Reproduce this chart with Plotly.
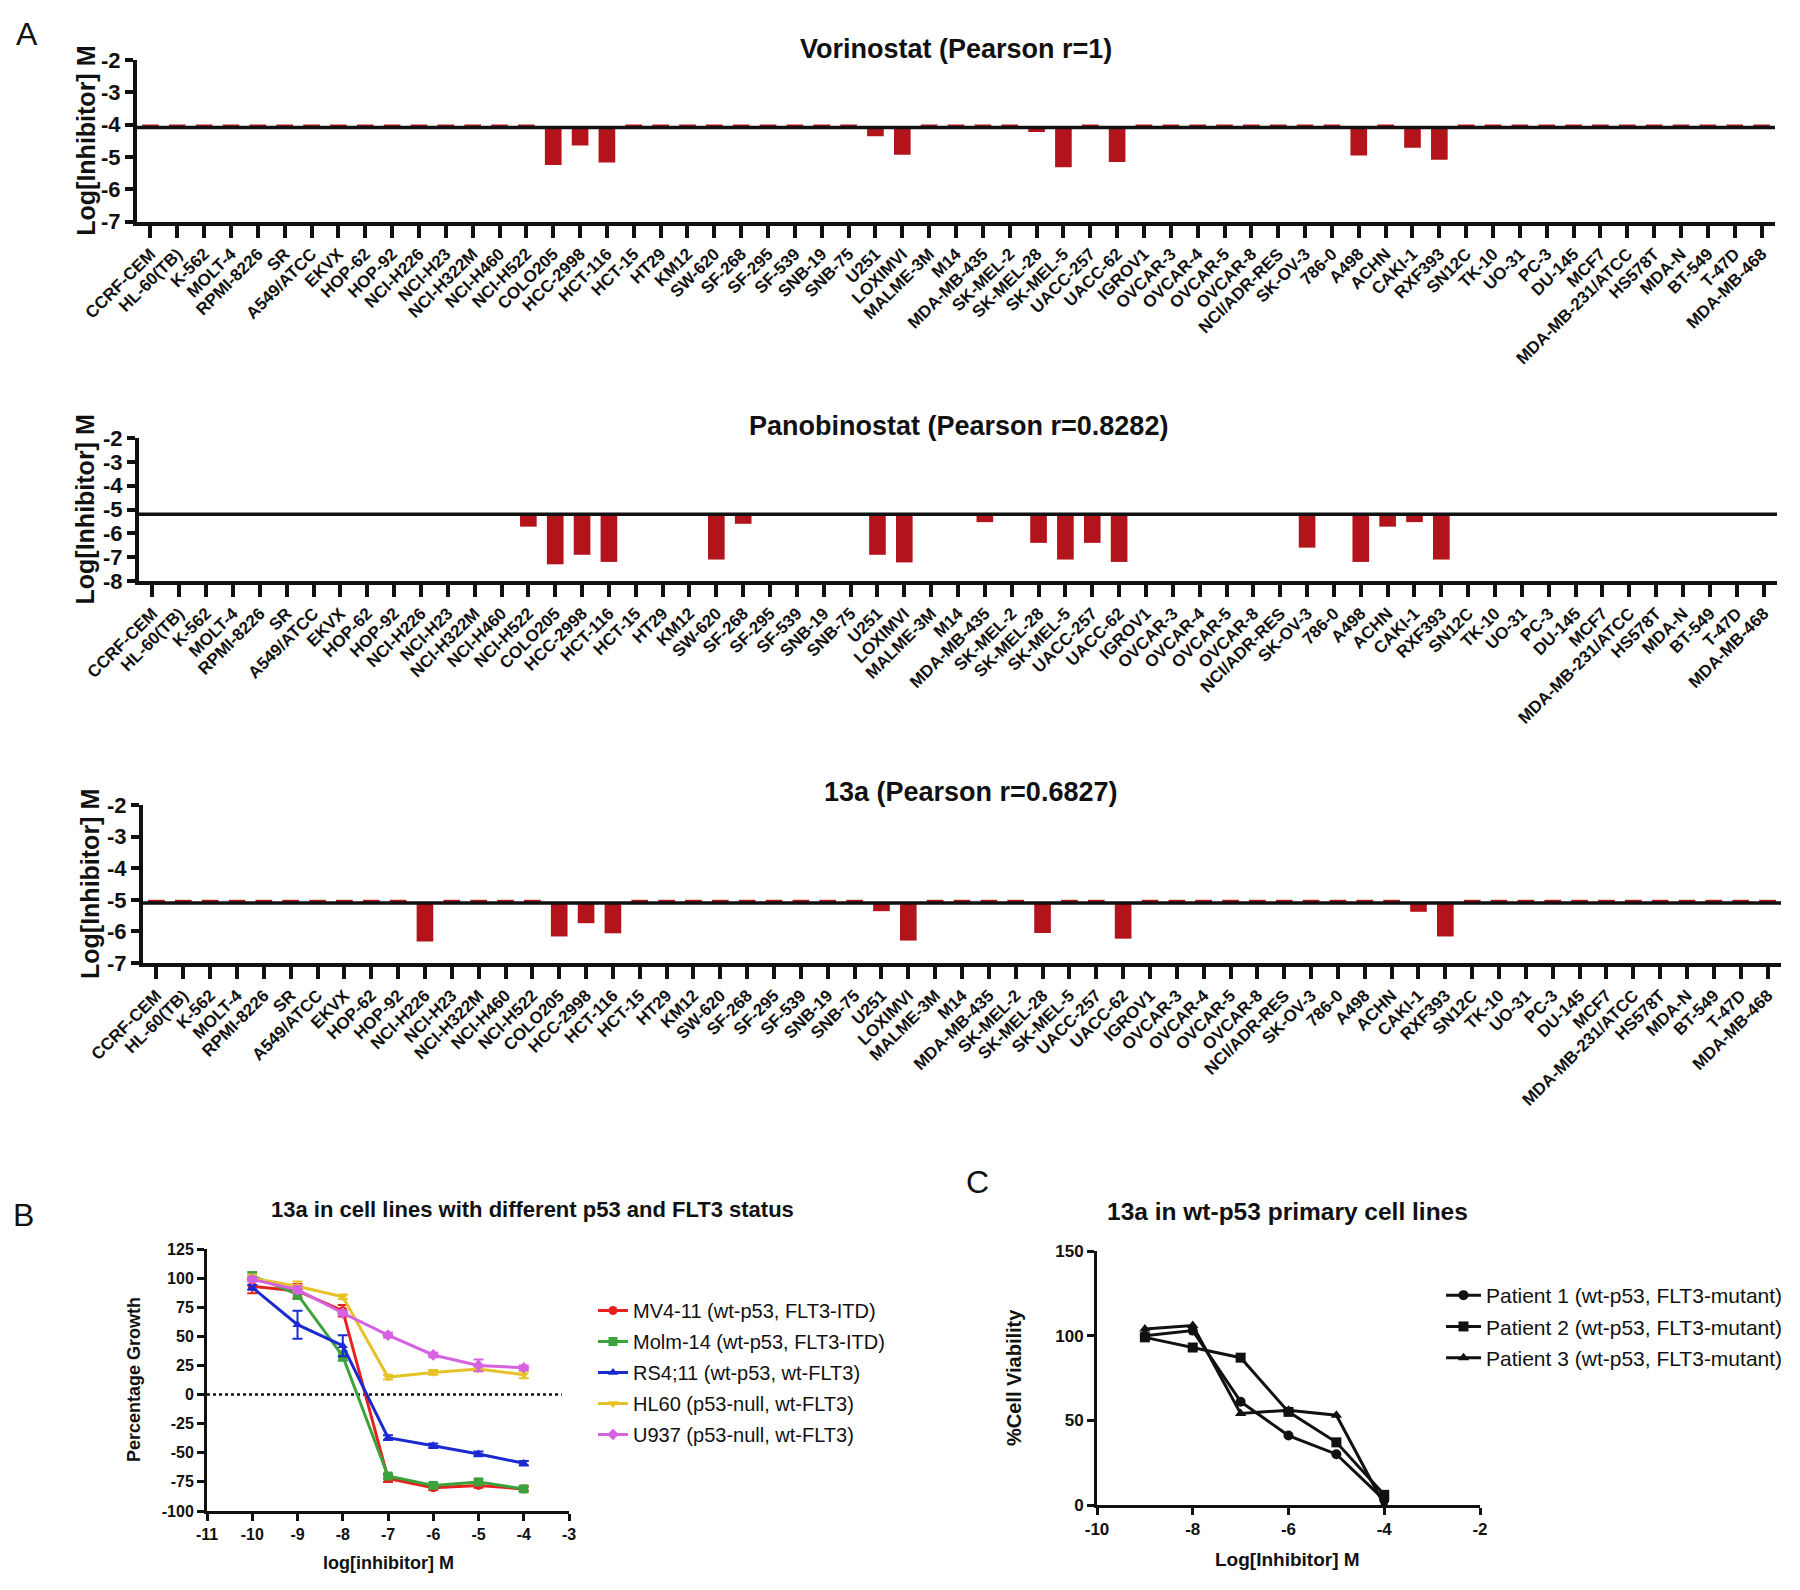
import plotly.graph_objects as go

W, H = 1800, 1590

# ---------------- data ----------------
cells = ["CCRF-CEM", "HL-60(TB)", "K-562", "MOLT-4", "RPMI-8226", "SR", "A549/ATCC", "EKVX",
         "HOP-62", "HOP-92", "NCI-H226", "NCI-H23", "NCI-H322M", "NCI-H460", "NCI-H522",
         "COLO205", "HCC-2998", "HCT-116", "HCT-15", "HT29", "KM12", "SW-620", "SF-268",
         "SF-295", "SF-539", "SNB-19", "SNB-75", "U251", "LOXIMVI", "MALME-3M", "M14",
         "MDA-MB-435", "SK-MEL-2", "SK-MEL-28", "SK-MEL-5", "UACC-257", "UACC-62", "IGROV1",
         "OVCAR-3", "OVCAR-4", "OVCAR-5", "OVCAR-8", "NCI/ADR-RES", "SK-OV-3", "786-0",
         "A498", "ACHN", "CAKI-1", "RXF393", "SN12C", "TK-10", "UO-31", "PC-3", "DU-145",
         "MCF7", "MDA-MB-231/ATCC", "HS578T", "MDA-N", "BT-549", "T-47D", "MDA-MB-468"]

vorinostat = [-4.0, -4.0, -4.0, -4.0, -4.0, -4.0, -4.0, -4.0, -4.0, -4.0,
              -4.0, -4.0, -4.0, -4.0, -4.0, -5.25, -4.65, -5.17, -4.0, -4.0,
              -4.0, -4.0, -4.0, -4.0, -4.0, -4.0, -4.0, -4.36, -4.93, -4.0,
              -4.0, -4.0, -4.0, -4.23, -5.32, -4.0, -5.16, -4.0, -4.0, -4.0,
              -4.0, -4.0, -4.0, -4.0, -4.0, -4.96, -4.0, -4.72, -5.09, -4.0,
              -4.0, -4.0, -4.0, -4.0, -4.0, -4.0, -4.0, -4.0, -4.0, -4.0, -4.0]
vorinostat_mean = -4.09

panobinostat = [-5.2, -5.2, -5.2, -5.2, -5.2, -5.2, -5.2, -5.2, -5.2, -5.2,
                -5.2, -5.2, -5.2, -5.2, -5.72, -7.3, -6.9, -7.2, -5.2, -5.2,
                -5.2, -7.1, -5.6, -5.2, -5.2, -5.2, -5.2, -6.9, -7.22, -5.2,
                -5.2, -5.53, -5.2, -6.4, -7.1, -6.4, -7.2, -5.2, -5.2, -5.2,
                -5.2, -5.2, -5.2, -6.6, -5.2, -7.2, -5.72, -5.53, -7.1, -5.2,
                -5.2, -5.2, -5.2, -5.2, -5.2, -5.2, -5.2, -5.2, -5.2, -5.2, -5.2]
panobinostat_mean = -5.2

c13a = [-5.0, -5.0, -5.0, -5.0, -5.0, -5.0, -5.0, -5.0, -5.0, -5.0,
        -6.32, -5.0, -5.0, -5.0, -5.0, -6.16, -5.74, -6.06, -5.0, -5.0,
        -5.0, -5.0, -5.0, -5.0, -5.0, -5.0, -5.0, -5.36, -6.29, -5.0,
        -5.0, -5.0, -5.0, -6.05, -5.0, -5.0, -6.23, -5.0, -5.0, -5.0,
        -5.0, -5.0, -5.0, -5.0, -5.0, -5.0, -5.0, -5.38, -6.16, -5.0,
        -5.0, -5.0, -5.0, -5.0, -5.0, -5.0, -5.0, -5.0, -5.0, -5.0, -5.0]
c13a_mean = -5.1

titles_a = ["Vorinostat (Pearson r=1)", "Panobinostat (Pearson r=0.8282)", "13a (Pearson r=0.6827)"]

# Panel B
x_b = [-10, -9, -8, -7, -6, -5, -4]
mv411 = [93, 89, 72, -72, -80, -78, -81]
molm14 = [102, 86, 33, -70, -78, -75, -81]
rs411 = [92, 60, 42, -37, -44, -51, -59]
hl60 = [100, 93, 84, 15, 19, 22, 17]
u937 = [99, 90, 70, 51, 34, 25, 23]
mv411_err = [6, 6, 5, 3, 2, 2, 2]
molm14_err = [3, 4, 4, 2, 2, 2, 2]
rs411_err = [2, 12, 9, 2, 2, 2, 2]
hl60_err = [3, 4, 2, 2, 2, 2, 3]
u937_err = [2, 3, 2, 2, 2, 5, 2]
names_b = ["MV4-11 (wt-p53, FLT3-ITD)", "Molm-14 (wt-p53, FLT3-ITD)", "RS4;11 (wt-p53, wt-FLT3)",
           "HL60 (p53-null, wt-FLT3)", "U937 (p53-null, wt-FLT3)"]
b_xticks = [-11, -10, -9, -8, -7, -6, -5, -4, -3]
b_yticks = [-100, -75, -50, -25, 0, 25, 50, 75, 100, 125]

# Panel C
x_c = [-9, -8, -7, -6, -5, -4]
patient1 = [100, 103, 61, 41, 30, 3]
patient2 = [99, 93, 87, 55, 37, 6]
patient3 = [104, 106, 54, 56, 53, 0]
names_c = ["Patient 1 (wt-p53, FLT3-mutant)", "Patient 2 (wt-p53, FLT3-mutant)",
           "Patient 3 (wt-p53, FLT3-mutant)"]
c_xticks = [-10, -8, -6, -4, -2]
c_yticks = [0, 50, 100, 150]

# ---------------- helpers ----------------
FONT = "Liberation Sans, Arial, Helvetica, sans-serif"
BLK = "#111111"


def xd(p0, p1):
    return [p0 / W, p1 / W]


def yd(top, bot):
    return [1 - bot / H, 1 - top / H]


def px(x):
    return x / W


def py(y):
    return 1 - y / H


def lab(v):
    return str(v)


fig = go.Figure()

# ---------------- Panel A ----------------
a_series = [vorinostat, panobinostat, c13a]
a_means = [vorinostat_mean, panobinostat_mean, c13a_mean]
a_ranges = [[-7, -2], [-8, -2], [-7, -2]]
a_xdom = [(129, 1767), (131, 1769), (135, 1773)]
a_ydom = [(52, 213.5), (430, 573), (797, 955)]
a_title_y = [41, 418, 784]
a_title_dx = [0, 0, 8]
a_ylab_x = [78, 76, 82]
bar_color = "#b3141c"

for i in range(3):
    n = i + 1
    xa = "x" if n == 1 else f"x{n}"
    ya = "y" if n == 1 else f"y{n}"
    vals = a_series[i]
    base = a_means[i]
    fig.add_trace(go.Bar(x=cells, y=[v - base for v in vals], base=base,
                         marker=dict(color=bar_color, line=dict(width=0)),
                         width=0.62, xaxis=xa, yaxis=ya, showlegend=False))
    lo, hi = a_ranges[i]
    yt = list(range(lo, hi + 1))
    axis_x = dict(domain=xd(*a_xdom[i]), anchor=ya, type="category",
                  range=[-0.5, len(cells) - 0.5], tickmode="array", tickvals=cells, ticktext=cells,
                  tickangle=-45, ticks="outside", ticklen=12, tickwidth=3.5, tickcolor=BLK,
                  showline=True, linewidth=4, linecolor=BLK, showgrid=False, zeroline=False,
                  tickfont=dict(family=FONT, size=17, color=BLK, weight="bold"), automargin=False)
    axis_y = dict(domain=yd(*a_ydom[i]), anchor=xa, range=[lo, hi], tickmode="array",
                  tickvals=yt, ticktext=[lab(v) for v in yt], ticks="outside", ticklen=8,
                  tickwidth=3.5, tickcolor=BLK, showline=True, linewidth=4, linecolor=BLK,
                  showgrid=False, zeroline=False,
                  tickfont=dict(family=FONT, size=22, color=BLK, weight="bold"), automargin=False)
    fig.update_layout(**{("xaxis" if n == 1 else f"xaxis{n}"): axis_x,
                         ("yaxis" if n == 1 else f"yaxis{n}"): axis_y})
    fig.add_shape(type="line", xref=f"{xa} domain", yref=ya, x0=0, x1=1, y0=base, y1=base,
                  line=dict(color=BLK, width=3.5), layer="above")
    xc = (a_xdom[i][0] + a_xdom[i][1]) / 2 + a_title_dx[i]
    fig.add_annotation(x=px(xc), y=py(a_title_y[i]), xref="paper", yref="paper",
                       text=titles_a[i], showarrow=False, xanchor="center", yanchor="middle",
                       font=dict(family=FONT, size=27, color=BLK, weight="bold"))
    yc = (a_ydom[i][0] + a_ydom[i][1]) / 2
    fig.add_annotation(x=px(a_ylab_x[i]), y=py(yc), xref="paper", yref="paper",
                       text="Log[Inhibitor] M", textangle=-90, showarrow=False,
                       xanchor="center", yanchor="middle",
                       font=dict(family=FONT, size=25, color=BLK, weight="bold"))

# ---------------- Panel B ----------------
b_series = [mv411, molm14, rs411, hl60, u937]
b_errs = [mv411_err, molm14_err, rs411_err, hl60_err, u937_err]
b_colors = ["#e8211e", "#3ca23c", "#1a2ad0", "#e6c229", "#d562e0"]
b_symbols = ["circle", "square", "triangle-up", "triangle-down", "diamond"]
for k in range(5):
    fig.add_trace(go.Scatter(x=x_b, y=b_series[k], mode="lines+markers", name=names_b[k],
                             line=dict(color=b_colors[k], width=3),
                             marker=dict(color=b_colors[k], size=9, symbol=b_symbols[k]),
                             error_y=dict(type="data", array=b_errs[k], color=b_colors[k],
                                          thickness=2, width=5),
                             xaxis="x4", yaxis="y4", legend="legend", legendgroup=f"b{k}"))

B_X0, B_X1, B_YT, B_YB = 199, 561, 1241, 1503
fig.update_layout(
    xaxis4=dict(domain=xd(B_X0, B_X1), anchor="y4", range=[-11, -3], tickmode="array",
                tickvals=b_xticks, ticktext=[lab(v) for v in b_xticks], ticks="outside",
                ticklen=7, tickwidth=3, tickcolor=BLK, showline=True, linewidth=3, linecolor=BLK,
                showgrid=False, zeroline=False, automargin=False,
                tickfont=dict(family=FONT, size=16, color=BLK, weight="bold")),
    yaxis4=dict(domain=yd(B_YT, B_YB), anchor="x4", range=[-100, 125], tickmode="array",
                tickvals=b_yticks, ticktext=[lab(v) for v in b_yticks], ticks="outside",
                ticklen=7, tickwidth=3, tickcolor=BLK, showline=True, linewidth=3, linecolor=BLK,
                showgrid=False, zeroline=False, automargin=False,
                tickfont=dict(family=FONT, size=16, color=BLK, weight="bold")),
)
fig.add_shape(type="line", xref="x4 domain", yref="y4", x0=0, x1=0.98, y0=0, y1=0,
              line=dict(color=BLK, width=2.5, dash="dot"), layer="below")

# ---------------- Panel C ----------------
c_series = [patient1, patient2, patient3]
c_symbols = ["circle", "square", "triangle-up"]
for k in range(3):
    fig.add_trace(go.Scatter(x=x_c, y=c_series[k], mode="lines+markers", name=names_c[k],
                             line=dict(color=BLK, width=3),
                             marker=dict(color=BLK, size=10, symbol=c_symbols[k]),
                             xaxis="x5", yaxis="y5", legend="legend2", legendgroup=f"c{k}"))

C_X0, C_X1, C_YT, C_YB = 1089, 1472, 1243, 1497
fig.update_layout(
    xaxis5=dict(domain=xd(C_X0, C_X1), anchor="y5", range=[-10, -2], tickmode="array",
                tickvals=c_xticks, ticktext=[lab(v) for v in c_xticks], ticks="outside",
                ticklen=7, tickwidth=3, tickcolor=BLK, showline=True, linewidth=3, linecolor=BLK,
                showgrid=False, zeroline=False, automargin=False,
                tickfont=dict(family=FONT, size=17, color=BLK, weight="bold")),
    yaxis5=dict(domain=yd(C_YT, C_YB), anchor="x5", range=[0, 150], tickmode="array",
                tickvals=c_yticks, ticktext=[lab(v) for v in c_yticks], ticks="outside",
                ticklen=7, tickwidth=3, tickcolor=BLK, showline=True, linewidth=3, linecolor=BLK,
                showgrid=False, zeroline=False, automargin=False,
                tickfont=dict(family=FONT, size=17, color=BLK, weight="bold")),
)

# ---------------- text annotations for B / C ----------------
def ann(x, y, text, size, bold=True, angle=0):
    fig.add_annotation(x=px(x), y=py(y), xref="paper", yref="paper", text=text,
                       showarrow=False, xanchor="center", yanchor="middle", textangle=angle,
                       font=dict(family=FONT, size=size, color=BLK,
                                 weight="bold" if bold else "normal"))


ann(524, 1201, "13a in cell lines with different p53 and FLT3 status", 22)
ann((B_X0 + B_X1) / 2, 1555, "log[inhibitor] M", 18)
ann(126, (B_YT + B_YB) / 2, "Percentage Growth", 18, angle=-90)
ann(1279, 1203, "13a in wt-p53 primary cell lines", 24.5)
ann((C_X0 + C_X1) / 2 - 1, 1551, "Log[Inhibitor] M", 19)
ann(1006, (C_YT + C_YB) / 2, "%Cell Viability", 20, angle=-90)

# panel letters
ann(19, 26, "A", 32, bold=False)
ann(15, 1207, "B", 32, bold=False)
ann(969, 1174, "C", 32, bold=False)

fig.update_layout(
    width=W, height=H, margin=dict(l=0, r=0, t=0, b=0),
    paper_bgcolor="white", plot_bgcolor="white", bargap=0.3,
    legend=dict(x=px(585), y=py(1283), xanchor="left", yanchor="top",
                font=dict(family=FONT, size=20, color=BLK), tracegroupgap=2,
                bgcolor="rgba(0,0,0,0)", itemwidth=30),
    legend2=dict(x=px(1433), y=py(1267), xanchor="left", yanchor="top",
                 font=dict(family=FONT, size=21, color=BLK), tracegroupgap=1,
                 bgcolor="rgba(0,0,0,0)", itemwidth=35),
)

fig.write_html("out.html")
